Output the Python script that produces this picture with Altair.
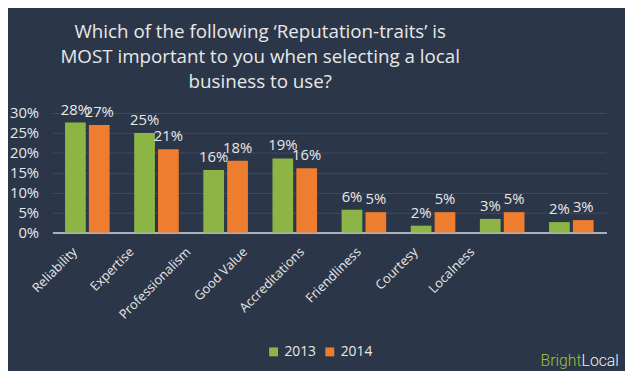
import altair as alt
import pandas as pd

categories = ["Reliability", "Expertise", "Professionalism", "Good Value",
              "Accreditations", "Friendliness", "Courtesy", "Localness"]
values_2013 = [27.6, 25.0, 15.7, 18.6, 5.7, 1.7, 3.4, 2.6]
values_2014 = [27.0, 20.9, 18.0, 16.1, 5.1, 5.1, 5.1, 3.1]
labels_2013 = ["28%", "25%", "16%", "19%", "6%", "2%", "3%", "2%"]
labels_2014 = ["27%", "21%", "18%", "16%", "5%", "5%", "5%", "3%"]
years = ["2013", "2014"]
colors = ["#8db545", "#ee7d2f"]
title_lines = ["Which of the following \u2018Reputation-traits\u2019 is",
               "MOST important to you when selecting a local",
               "business to use?"]

rows = []
for i, c in enumerate(categories):
    rows.append({"cat": c, "year": "2013", "val": values_2013[i] / 100, "lab": labels_2013[i]})
    rows.append({"cat": c, "year": "2014", "val": values_2014[i] / 100, "lab": labels_2014[i]})
df = pd.DataFrame(rows)
cat_df = pd.DataFrame({"cat": categories})

TXT = "#e8e8e8"
FONT = "Open Sans"

x_scale = alt.Scale(paddingInner=0.31, paddingOuter=0.16)
x_axis = alt.Axis(labels=False, ticks=False, domainColor="#aab1bd", domainWidth=2,
                  grid=False, orient="bottom")
x = alt.X("cat:N", sort=categories, title=None, scale=x_scale, axis=x_axis)
y = alt.Y("val:Q", title=None,
          scale=alt.Scale(domain=[0, 0.30], nice=False),
          axis=alt.Axis(format=".0%", values=[0, 0.05, 0.10, 0.15, 0.20, 0.25, 0.30],
                        domain=False, ticks=False, labelPadding=14, labelOverlap=False,
                        labelColor=TXT, labelFontSize=15, labelFont=FONT,
                        gridColor="#404b5e", gridWidth=1))
color = alt.Color("year:N", scale=alt.Scale(domain=years, range=colors),
                  legend=alt.Legend(title=None, orient="none", legendX=217, legendY=235,
                                    direction="horizontal", symbolType="square",
                                    symbolSize=81, symbolStrokeWidth=0, padding=0,
                                    labelColor=TXT, labelFontSize=14, labelFont=FONT,
                                    columnPadding=6, labelOffset=4))

bars = alt.Chart(df).mark_bar(size=21).encode(
    x=x, y=y, color=color, xOffset=alt.XOffset("year:N", sort=years))
texts = alt.Chart(df).mark_text(baseline="bottom", dy=-5, fontSize=15,
                                font=FONT, color=TXT).encode(
    x=x, y=y, xOffset=alt.XOffset("year:N", sort=years), text="lab:N")

# category labels (as placed in the original, slightly compressed to the left)
cat_labels = alt.Chart(cat_df).mark_tick(opacity=0).encode(
    x=alt.X("cat:N", sort=categories, title=None,
            scale=alt.Scale(range=[-10, 450], paddingInner=0, paddingOuter=0),
            axis=alt.Axis(orient="bottom", labelAngle=-45, labelAlign="right",
                          labelBaseline="top", labelPadding=13, ticks=False,
                          domain=False, grid=False, labelOverlap=False,
                          labelColor=TXT, labelFontSize=13, labelFont=FONT)))

logo_df = pd.DataFrame({"t": ["x"]})
logo1 = alt.Chart(logo_df).mark_text(text="Bright", align="right", baseline="alphabetic",
                                     fontSize=16, font="Roboto", fontWeight=300,
                                     color="#9bc23c").encode(
    x=alt.value(536), y=alt.value(256))
logo2 = alt.Chart(logo_df).mark_text(text="Local", align="left", baseline="alphabetic",
                                     fontSize=16, font="Roboto", fontWeight=300,
                                     color="#f0f0f0").encode(
    x=alt.value(536), y=alt.value(256))

chart = alt.layer(bars, texts, cat_labels, logo1, logo2).resolve_scale(
    x="independent").resolve_axis(x="independent").properties(
    width=561, height=121,
    background="#2c3649",
    padding={"left": 45, "top": 104, "right": 19, "bottom": 138},
    autosize=alt.AutoSizeParams(type="none"),
    title=alt.TitleParams(title_lines, fontSize=19, font=FONT, color=TXT,
                          fontWeight="normal", lineHeight=25.5, anchor="middle",
                          offset=11, dx=-70),
).configure_view(stroke=None)

chart.save("out.html", embed_options={"renderer": "svg", "actions": False})
